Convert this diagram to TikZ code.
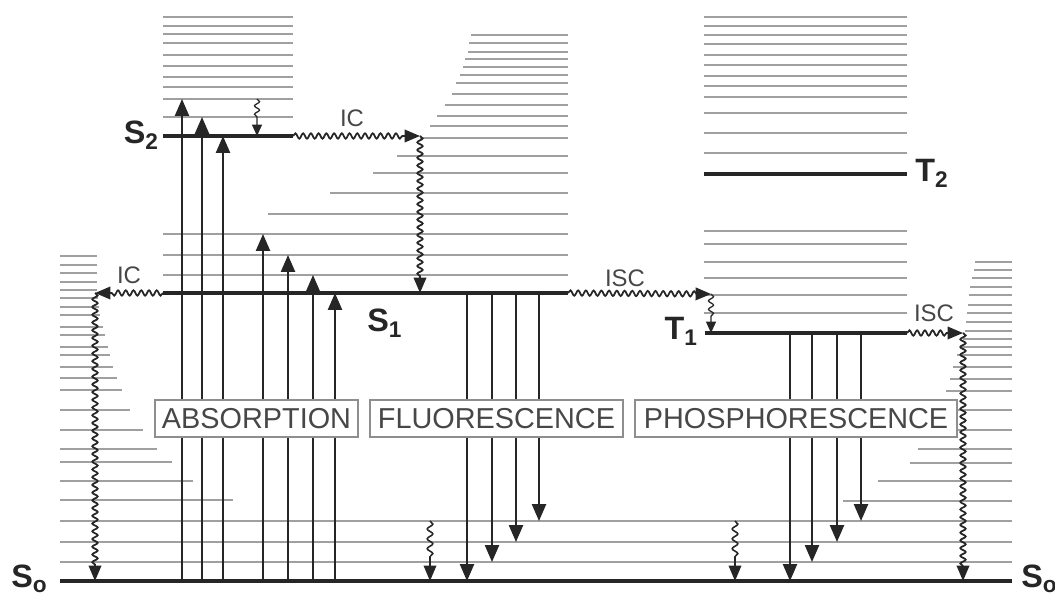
\documentclass[tikz,border=0pt]{standalone}
\usepackage{fontspec}
\setmainfont{Liberation Sans}
\usetikzlibrary{arrows.meta,decorations.pathmorphing}
\definecolor{lvlGray}{HTML}{A0A0A0}
\definecolor{txtGray}{HTML}{474747}
\definecolor{boxGray}{HTML}{8E8E8E}
\tikzset{
  vib/.style={draw=lvlGray, line width=1.6pt},
  elec/.style={draw=black!85, line width=3.2pt},
  arr/.style={-{Triangle[length=12pt,width=10pt]}, line width=1.4pt, draw=black!85},
  wavy/.style={-{Triangle[length=11pt,width=9pt]}, line width=1.25pt, draw=black!85,
        decorate, decoration={snake, amplitude=1.9pt, segment length=5.5pt,
        post length=10pt}},
  relax/.style={-{Triangle[length=11pt,width=9pt]}, line width=1.1pt, draw=black!85,
        decorate, decoration={snake, amplitude=2pt, segment length=7pt,
        post length=16pt}},
  relaxsm/.style={-{Triangle[length=8pt,width=7pt]}, line width=0.9pt, draw=black!85,
        decorate, decoration={snake, amplitude=1.8pt, segment length=6pt,
        post length=11pt}},
  lvlname/.style={font=\fontsize{23}{25}\selectfont\bfseries, text=black!85,
        inner sep=0pt},
  proc/.style={font=\fontsize{17}{19}\selectfont, text=txtGray, inner sep=0pt},
  boxlbl/.style={draw=boxGray, line width=1pt, fill=white, text=txtGray,
        font=\fontsize{20.5}{22}\selectfont, minimum height=0.925cm, inner sep=0pt}
}
\begin{document}
\begin{tikzpicture}[x=0.025cm, y=-0.025cm]
\useasboundingbox (0,0) rectangle (1055,597);

% electronic levels
\coordinate (s0w) at (60,581);  \coordinate (s0e) at (1012,581);
\coordinate (s1w) at (163,293); \coordinate (s1e) at (568,293);
\coordinate (s2w) at (163,136); \coordinate (s2e) at (293,136);
\coordinate (t1w) at (705,333); \coordinate (t1e) at (907,333);
\coordinate (t2w) at (704,174); \coordinate (t2e) at (907,174);

% vibrational sublevels
\foreach \y in {17,26,34,43,55,66,77,87,99,117}
  \draw[vib] (163,\y) -- (293,\y);
\foreach \y/\x in {35/471,43/469,52/468,59/465,67/463,75/460,83/456,94/452,
                   105/445,116/437,126/430,138/420,156/397,173/373,193/330,
                   214/268,234/163,255/163,275/163}
  \draw[vib] (\x,\y) -- (568,\y);
\foreach \y in {17,26,35,44,55,65,76,86,97,113,133,153,231,244,262,278,295,313}
  \draw[vib] (704,\y) -- (907,\y);
\foreach \y/\x in {256/97,265/97,273/97,282/97,290/97,298/98,307/99,315/100,
                   327/103,335/105,347/108,355/110,367/113,378/117,390/122,
                   410/130,430/143,449/157,462/172,481/193,500/233}
  \draw[vib] (60,\y) -- (\x,\y);
\foreach \y/\x in {262/975,270/974,278/972,287/970,295/969,305/968,313/967,
                   322/966,331/965,339/963,347/960,355/957,367/953,379/950,
                   391/946,410/942,430/929,449/918,463/910,481/878,501/843}
  \draw[vib] (\x,\y) -- (1012,\y);
\foreach \y in {521,542,562}
  \draw[vib] (60,\y) -- (1012,\y);

\draw[elec] (s0w) -- (s0e);
\draw[elec] (s1w) -- (s1e);
\draw[elec] (s2w) -- (s2e);
\draw[elec] (t1w) -- (t1e);
\draw[elec] (t2w) -- (t2e);

% absorption
\foreach \x/\y [count=\i] in {182/99,202/117,223/136,263/234,288/255,313/275,335/293} {
  \coordinate (ab\i) at (\x,\y);
  \draw[arr] (ab\i |- s0w) -- (ab\i);
}
% fluorescence
\foreach \x/\y [count=\i] in {467/581,492/562,516/542,539/521} {
  \coordinate (fl\i) at (\x,\y);
  \draw[arr] (fl\i |- s1w) -- (fl\i);
}
% phosphorescence
\foreach \x/\y [count=\i] in {790/581,812/562,837/542,861/521} {
  \coordinate (ph\i) at (\x,\y);
  \draw[arr] (ph\i |- t1w) -- (ph\i);
}

% internal conversion and intersystem crossing
\coordinate (icA) at (420,136);
\draw[wavy] (s2e) -- (icA);
\draw[wavy] (icA) -- (icA |- s1w);
\coordinate (icB) at (95,293);
\draw[wavy] (s1w) -- (icB);
\draw[wavy] (icB) -- (icB |- s0w);
\coordinate (iscA) at (711,294);
\draw[wavy] (s1e) -- (iscA);
\draw[relaxsm] (iscA) -- (iscA |- t1w);
\coordinate (iscB) at (963,333);
\draw[wavy] (t1e) -- (iscB);
\draw[wavy] (iscB) -- (iscB |- s0w);

% vibrational relaxation
\coordinate (vr1) at (257,99);
\draw[relaxsm] (vr1) -- (vr1 |- s2w);
\coordinate (vr2) at (430,521);
\draw[relax] (vr2) -- (vr2 |- s0w);
\coordinate (vr3) at (735,521);
\draw[relax] (vr3) -- (vr3 |- s0w);

% process boxes
\node[boxlbl, minimum width=5.075cm] (absbox) at (256.5,418.5) {ABSORPTION};
\node[boxlbl, minimum width=6.325cm] (flubox) at (496.5,418.5) {FLUORESCENCE};
\node[boxlbl, minimum width=8.05cm]  (phobox) at (796,418.5) {PHOSPHORESCENCE};

% labels
\node[proc] (icAlbl)  at (352,118) {IC};
\node[proc] (icBlbl)  at (129,275) {IC};
\node[proc] (iscAlbl) at (625,278) {ISC};
\node[proc] (iscBlbl) at (934,313) {ISC};
\node[lvlname, anchor=base east] (s2lbl) at (159,144) {S\textsubscript{2}};
\node[lvlname, anchor=base west] (s1lbl) at (367,332) {S\textsubscript{1}};
\node[lvlname, anchor=base east] (t1lbl) at (698,340) {T\textsubscript{1}};
\node[lvlname, anchor=base west] (t2lbl) at (915,182) {T\textsubscript{2}};
\node[lvlname, anchor=base west] (s0lbl) at (11,587) {S\textsubscript{o}};
\node[lvlname, anchor=base west] (s0rlbl) at (1021,587) {S\textsubscript{o}};
\end{tikzpicture}
\end{document}
